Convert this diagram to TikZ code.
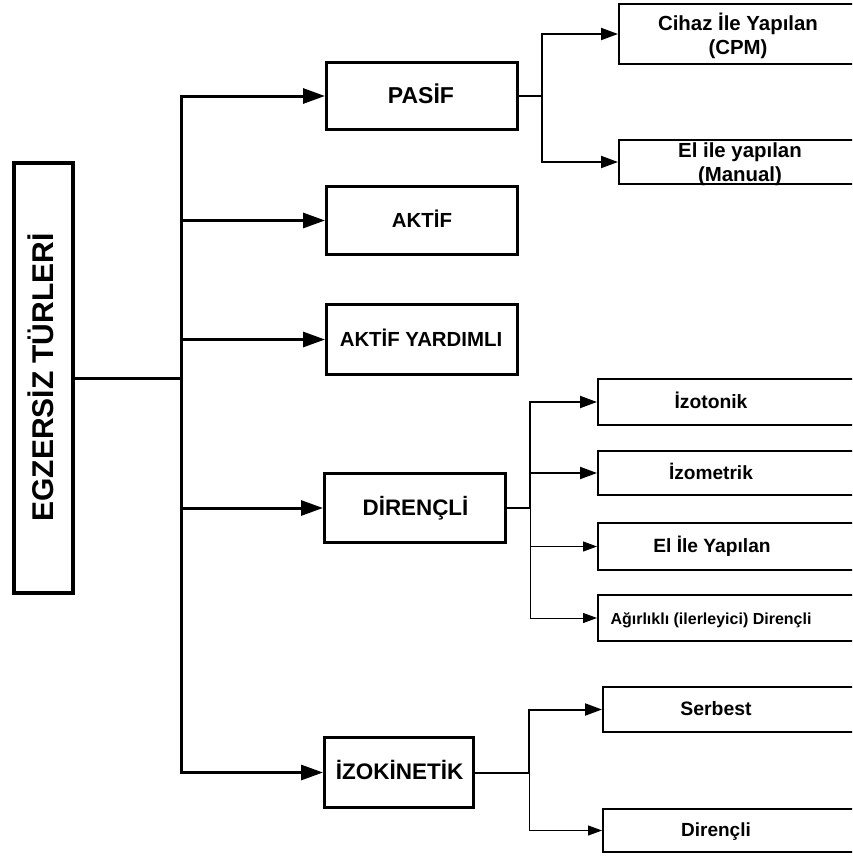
\documentclass[tikz,border=0pt]{standalone}
\usepackage{fontspec}
\setmainfont{Liberation Sans}
\usetikzlibrary{arrows.meta}
\begin{document}
\begin{tikzpicture}[x=1pt,y=-1pt,
  mainbox/.style={draw,line width=4pt,inner sep=0pt},
  lvlbox/.style={draw,line width=3pt,inner sep=0pt},
  subbox/.style={draw,line width=2pt,inner sep=0pt},
  lbl/.style={font=\bfseries\fontsize{#1}{#1}\selectfont,inner sep=0pt,anchor=base},
  lbltwo/.style={font=\bfseries\fontsize{20.4}{24}\selectfont,inner sep=0pt,align=center},
  lone/.style={line width=3pt,line cap=rect},
  ltwo/.style={line width=2pt,line cap=rect},
  lthree/.style={line width=1pt,line cap=rect},
  aone/.style={line width=3pt,-{Triangle[length=22pt,width=15pt]}},
  atwo/.style={line width=2pt,-{Triangle[length=17pt,width=12pt]}},
  athree/.style={line width=1pt,-{Triangle[length=14pt,width=10pt]}}
]
\useasboundingbox (0,0) rectangle (852,860);
\clip (0,0) rectangle (852,860);

% main box
\node[mainbox,minimum width=59pt,minimum height=430pt] (main) at (43.5,378) {};
\node[lbl=30,rotate=90] (mainT) at (53,377.5) {EGZERSİZ TÜRLERİ};

% level 1
\node[lvlbox,minimum width=191pt,minimum height=67pt] (pasif) at (422,96) {};
\node[lbl=23] (pasifT) at (421,103.3) {PASİF};
\node[lvlbox,minimum width=191pt,minimum height=68pt] (aktif) at (422,220.5) {};
\node[lbl=20.4] (aktifT) at (422,227.3) {AKTİF};
\node[lvlbox,minimum width=191pt,minimum height=70pt] (aktifY) at (422,339.5) {};
\node[lbl=20.4] (aktifYT) at (421,346) {AKTİF YARDIMLI};
\node[lvlbox,minimum width=181pt,minimum height=69pt] (diren) at (415,508) {};
\node[lbl=22.4] (direnT) at (415.5,515.7) {DİRENÇLİ};
\node[lvlbox,minimum width=149pt,minimum height=70pt] (izok) at (399,772.5) {};
\node[lbl=22.5] (izokT) at (399.7,779.5) {İZOKİNETİK};

% level 2 (PASİF)
\node[subbox,minimum width=281pt,minimum height=60pt] (cihaz) at (759.5,34) {};
\node[lbltwo] (cihazT) at (738,35.5) {Cihaz İle Yapılan\\(CPM)};
\node[subbox,minimum width=281pt,minimum height=44pt] (elman) at (759.5,162) {};
\node[lbltwo] (elmanT) at (740,164.5) {El ile yapılan\\(Manual)};

% level 2 (DİRENÇLİ)
\node[subbox,minimum width=302pt,minimum height=46pt] (izot) at (749,402) {};
\node[lbl=19.3] (izotT) at (711,408) {İzotonik};
\node[subbox,minimum width=302pt,minimum height=44pt] (izom) at (749,473) {};
\node[lbl=19.1] (izomT) at (711,479) {İzometrik};
\node[subbox,minimum width=302pt,minimum height=47pt] (elile) at (749,546.5) {};
\node[lbl=19.2] (elileT) at (712,552.7) {El İle Yapılan};
\node[subbox,minimum width=302pt,minimum height=46pt] (agir) at (749,618) {};
\node[lbl=16] (agirT) at (711,624) {Ağırlıklı (ilerleyici) Dirençli};

% level 2 (İZOKİNETİK)
\node[subbox,minimum width=297pt,minimum height=45pt] (serb) at (751.5,709.5) {};
\node[lbl=19.4] (serbT) at (716,715.7) {Serbest};
\node[subbox,minimum width=297pt,minimum height=43pt] (dirc) at (751.5,830.5) {};
\node[lbl=19] (dircT) at (716,836) {Dirençli};

% trunk
\coordinate (j0) at (181,378);
\draw[lone] (main.east) -- (j0);
\draw[lone] (j0 |- pasif) -- (j0 |- izok);
\foreach \n in {pasif,aktif,aktifY,diren,izok}
  \draw[aone] (j0 |- \n) -- (\n.west);

% PASİF branches
\coordinate (jp) at (542,96);
\draw[ltwo] (pasif.east) -- (jp);
\draw[ltwo] (jp |- cihaz) -- (jp |- elman);
\draw[atwo] (jp |- cihaz) -- (cihaz.west);
\draw[atwo] (jp |- elman) -- (elman.west);

% DİRENÇLİ branches
\coordinate (jd) at (530,508);
\draw[ltwo] (diren.east) -- (jd);
\draw[ltwo] (jd |- izot) -- (jd);
\draw[lthree] (jd) -- (jd |- agir);
\draw[atwo] (jd |- izot) -- (izot.west);
\draw[atwo] (jd |- izom) -- (izom.west);
\draw[athree] (jd |- elile) -- (elile.west);
\draw[athree] (jd |- agir) -- (agir.west);

% İZOKİNETİK branches
\coordinate (ji) at (529,772.5);
\draw[ltwo] (izok.east) -- (ji);
\draw[ltwo] (ji |- serb) -- (ji);
\draw[lthree] (ji) -- (ji |- dirc);
\draw[atwo] (ji |- serb) -- (serb.west);
\draw[athree] (ji |- dirc) -- (dirc.west);
\end{tikzpicture}
\end{document}
